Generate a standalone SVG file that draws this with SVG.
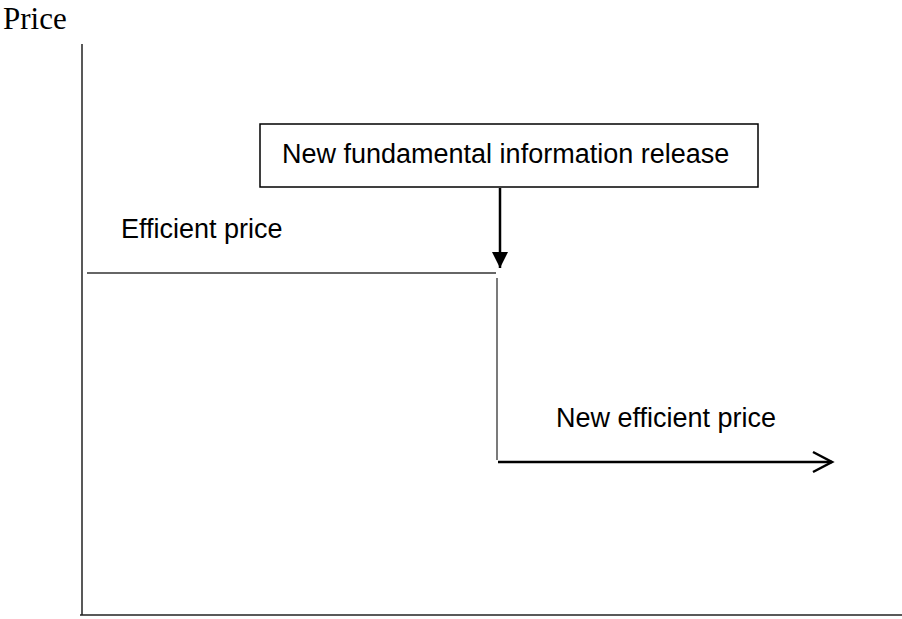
<svg xmlns="http://www.w3.org/2000/svg" width="902" height="619" viewBox="0 0 902 619">
<style>
.ax{stroke:#222;stroke-width:1.5;fill:none}
.ln{stroke:#333;stroke-width:1.3;fill:none}
.lbl{font-family:"Liberation Sans",Arial,sans-serif;font-size:27px;fill:#000}
.ser{font-family:"Liberation Serif","Times New Roman",serif;font-size:31px;fill:#000}
</style>
<defs>
<marker id="solid" markerWidth="16" markerHeight="16" refX="16" refY="8" orient="auto" markerUnits="userSpaceOnUse">
<path d="M0,0 L16,8 L0,16 Z" fill="#000"/>
</marker>
<marker id="open" markerWidth="24" markerHeight="24" refX="21" refY="12" orient="auto" markerUnits="userSpaceOnUse">
<path d="M2,2 L21,12 L2,22" fill="none" stroke="#000" stroke-width="2.5"/>
</marker>
</defs>
<text class="ser" x="3" y="29">Price</text>
<g id="axes">
<line class="ax" x1="82" y1="44" x2="82" y2="615"/>
<line class="ax" x1="80" y1="615" x2="902" y2="615"/>
</g>
<g id="efficient-price">
<text class="lbl" x="121" y="238">Efficient price</text>
<line class="ln" x1="87" y1="273" x2="496" y2="273"/>
</g>
<g id="info-release">
<rect x="260" y="124" width="498" height="63" fill="#fff" stroke="#000" stroke-width="1.5"/>
<text class="lbl" x="282" y="163">New fundamental information release</text>
</g>
<g id="new-efficient-price">
<text class="lbl" x="556" y="427">New efficient price</text>
</g>
<g id="connectors">
<line x1="500" y1="188" x2="500" y2="268" stroke="#000" stroke-width="2.5" marker-end="url(#solid)"/>
<line class="ln" x1="497" y1="278" x2="497" y2="460"/>
<line x1="498" y1="462" x2="832" y2="462" stroke="#000" stroke-width="2.5" marker-end="url(#open)"/>
</g>
</svg>
